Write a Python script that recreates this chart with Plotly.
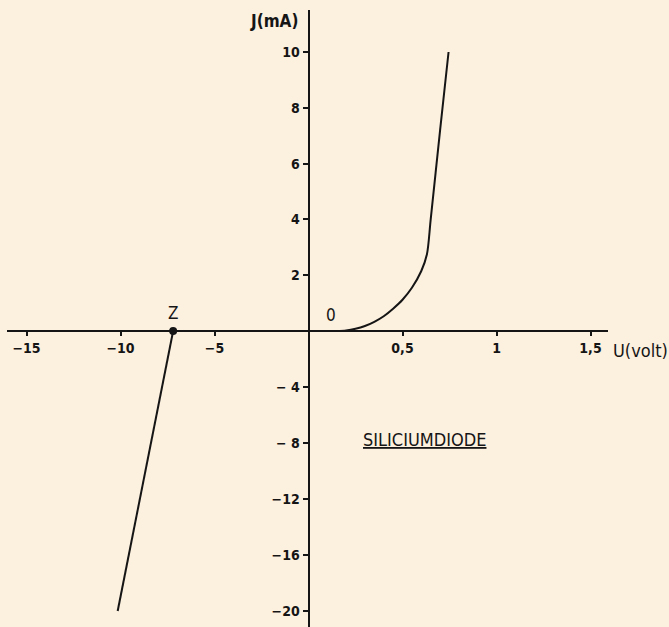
import plotly.graph_objects as go

# Forward branch of the silicon diode characteristic (U in volt, J in mA)
u_forward = [0.15, 0.2, 0.25, 0.3, 0.35, 0.4, 0.45, 0.5, 0.55, 0.6, 0.63, 0.65, 0.7, 0.745]
j_forward = [0.0, 0.02, 0.08, 0.18, 0.33, 0.53, 0.8, 1.12, 1.55, 2.15, 2.75, 4.0, 7.2, 10.0]

# Reverse (Zener) branch
u_zener = [-7.2, -10.15]
j_zener = [0.0, -20.0]
u_z_point = [-7.2]
j_z_point = [0.0]

# Axis ticks
x_tick_values = [-15, -10, -5, 0.5, 1, 1.5]
x_tick_labels = ["−15", "−10", "−5", "0,5", "1", "1,5"]
y_tick_values = [10, 8, 6, 4, 2, -4, -8, -12, -16, -20]
y_tick_labels = ["10", "8", "6", "4", "2", "− 4", "− 8", "−12", "−16", "−20"]

# Split scales: the negative and positive halves of each axis use different units
X_NEG, X_POS = 18.8, 188.0   # display units per volt
Y_NEG, Y_POS = 14.0, 27.9    # display units per mA


def sx(u):
    return u * (X_POS if u >= 0 else X_NEG)


def sy(j):
    return j * (Y_POS if j >= 0 else Y_NEG)


W, H = 669, 627
X0_PX, Y0_PX = 308.5, 331.0   # origin in page pixels
X_LEFT_PX, X_RIGHT_PX = 7, 608
Y_TOP_PX = 10

FAMILY = "DejaVu Sans Condensed, Liberation Sans Narrow, Arial Narrow, sans-serif"
INK = "#151515"

fig = go.Figure()

fig.add_trace(go.Scatter(
    x=[sx(u) for u in u_forward], y=[sy(j) for j in j_forward],
    mode="lines", line=dict(color=INK, width=2, shape="spline", smoothing=0.8),
    hoverinfo="skip", showlegend=False))

fig.add_trace(go.Scatter(
    x=[sx(u) for u in u_zener], y=[sy(j) for j in j_zener],
    mode="lines", line=dict(color=INK, width=2),
    hoverinfo="skip", showlegend=False))

fig.add_trace(go.Scatter(
    x=[sx(u) for u in u_z_point], y=[sy(j) for j in j_z_point],
    mode="markers", marker=dict(color=INK, size=8),
    hoverinfo="skip", showlegend=False))

x_range = [X_LEFT_PX - X0_PX, X_RIGHT_PX - X0_PX]
y_range = [Y0_PX - H, Y0_PX - Y_TOP_PX]

tick_font = dict(size=14, family=FAMILY, color=INK, weight="bold")

fig.update_layout(
    width=W, height=H,
    margin=dict(l=0, r=0, t=0, b=0),
    paper_bgcolor="#fcf0df",
    plot_bgcolor="rgba(0,0,0,0)",
    xaxis=dict(
        domain=[X_LEFT_PX / W, X_RIGHT_PX / W],
        range=x_range,
        anchor="free", position=(H - Y0_PX) / H,
        showline=True, linecolor=INK, linewidth=2,
        showgrid=False, zeroline=False,
        ticks="outside", ticklen=4, tickwidth=1.5, tickcolor=INK,
        tickvals=[sx(v) for v in x_tick_values], ticktext=x_tick_labels,
        tickfont=tick_font,
        fixedrange=True,
    ),
    yaxis=dict(
        domain=[0, (H - Y_TOP_PX) / H],
        range=y_range,
        anchor="free", position=X0_PX / W,
        showline=True, linecolor=INK, linewidth=2,
        showgrid=False, zeroline=False,
        ticks="outside", ticklen=5, tickwidth=1.5, tickcolor=INK,
        tickvals=[sy(v) for v in y_tick_values], ticktext=y_tick_labels,
        tickfont=tick_font,
        fixedrange=True,
    ),
)

annotations = [
    dict(text="J(mA)", x=274, y=21, size=17, weight="bold"),
    dict(text="U(volt)", x=640, y=350, size=18, weight="normal"),
    dict(text="0", x=331, y=315, size=17, weight="normal"),
    dict(text="Z", x=173, y=313, size=17, weight="normal"),
    dict(text="<u>SILICIUMDIODE</u>", x=424, y=439, size=18, weight="normal"),
]
for a in annotations:
    fig.add_annotation(
        text=a["text"], x=a["x"] / W, y=1 - a["y"] / H, xref="paper", yref="paper",
        xanchor="center", yanchor="middle", showarrow=False,
        font=dict(family=FAMILY, size=a["size"], color=INK, weight=a["weight"]))

fig.write_html("out.html")
